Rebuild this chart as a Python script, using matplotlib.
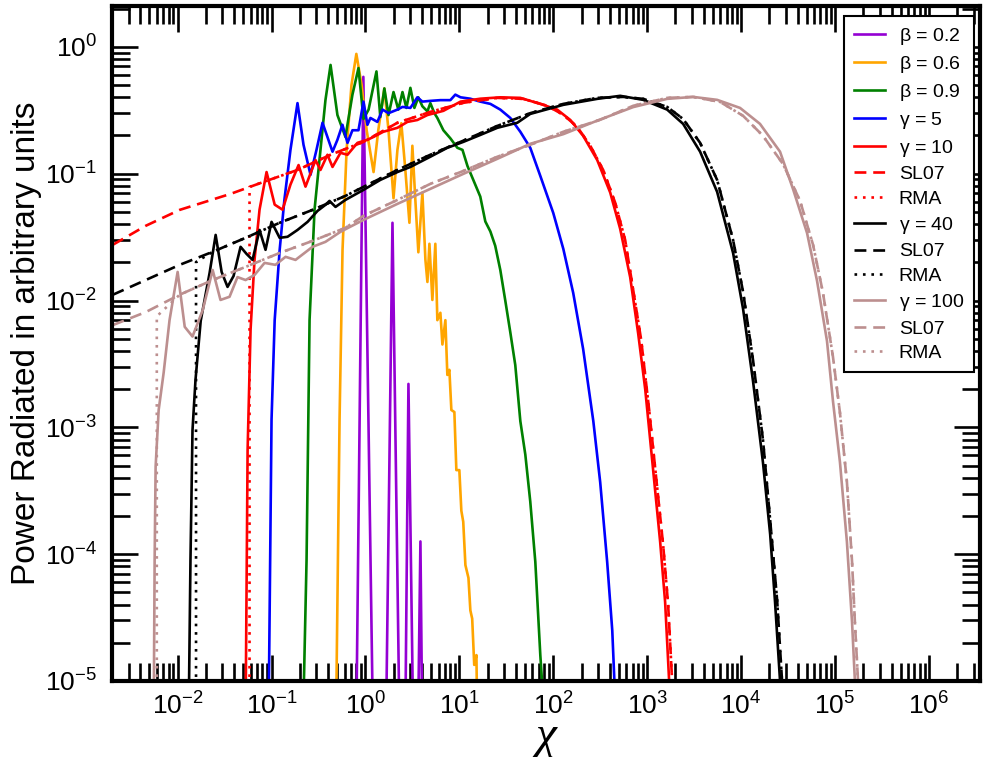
import matplotlib
matplotlib.use('Agg')
import matplotlib.pyplot as plt
import matplotlib.ticker as ticker
import numpy as np

plt.rcParams['font.family'] = ['Liberation Sans', 'DejaVu Sans']
plt.rcParams['mathtext.fontset'] = 'custom'
plt.rcParams['mathtext.rm'] = 'Liberation Sans'
plt.rcParams['mathtext.it'] = 'Liberation Sans:italic'

# beta = 0.2: isolated harmonics
b02_x = [0.80, 0.95, 1.20, 1.66, 1.94, 2.30, 2.66, 2.87, 3.22, 3.64, 3.85, 4.02]
b02_y = [5e-6, 0.58, 5e-6, 5e-6, 0.041, 5e-6, 5e-6, 2.2e-3, 5e-6, 5e-6, 1.26e-4, 5e-6]

# beta = 0.6
b06_x = [0.49, 0.53, 0.57, 0.63, 0.71, 0.80, 0.91, 1.03, 1.22, 1.37, 1.59, 1.76, 1.99, 2.19, 2.41,
         2.66, 2.94, 3.16, 3.40, 3.66, 4.04, 4.35, 4.57, 4.80, 5.16, 5.55, 5.83, 6.28, 6.60, 7.10,
         7.45, 7.83, 8.22, 8.85, 9.29, 10.0, 10.5, 11.0, 11.6, 12.5, 13.1, 13.7, 14.4, 15.2, 15.5]
b06_y = [8e-6, 1.15e-3, 0.025, 0.154, 0.50, 0.88, 0.50, 0.22, 0.103, 0.22, 0.47, 0.22, 0.064, 0.154, 0.25,
         0.107, 0.041, 0.166, 0.062, 0.024, 0.071, 0.021, 0.014, 0.028, 0.0101, 0.028, 0.0070, 0.0080, 0.0045, 0.0070,
         0.00259, 0.00284, 0.00137, 0.00132, 4.6e-4, 4.6e-4, 2.2e-4, 1.8e-4, 8.2e-5, 6.5e-5, 3.6e-5, 3.1e-5, 1.34e-5, 1.6e-5, 5e-6]

# beta = 0.9
b09_x = [0.219, 0.236, 0.254, 0.287, 0.332, 0.375, 0.425, 0.503, 0.612, 0.727, 0.843, 0.953, 1.08, 1.31, 1.44,
         1.59, 1.76, 1.99, 2.24, 2.48, 2.73, 3.01, 3.32, 3.66, 4.04, 4.57, 4.91, 5.42, 5.83, 6.76,
         8.02, 9.52, 10.8, 12.2, 14.1, 16.7, 18.9, 21.4, 24.1, 27.3, 30.9, 34.9, 39.4, 44.6, 50.4,
         56.9, 64.4, 72.8, 78.3]
b09_y = [7e-6, 9.0e-5, 7.0e-3, 0.052, 0.154, 0.38, 0.72, 0.29, 0.195, 0.42, 0.68, 0.27, 0.32, 0.64, 0.28,
         0.47, 0.29, 0.44, 0.32, 0.44, 0.33, 0.475, 0.33, 0.40, 0.34, 0.31, 0.36, 0.30, 0.275, 0.22,
         0.19, 0.16, 0.154, 0.115, 0.089, 0.066, 0.042, 0.035, 0.027, 0.0174, 0.0099, 0.0056, 0.0031, 1.12e-3, 6.1e-4,
         2.6e-4, 8.7e-5, 1.6e-5, 7e-6]

# gamma = 5
g5_x = [0.093, 0.100, 0.108, 0.122, 0.137, 0.159, 0.189, 0.219, 0.260, 0.301, 0.349, 0.446, 0.503, 0.569, 0.644,
        0.727, 0.843, 0.953, 1.05, 1.13, 1.34, 1.52, 1.76, 2.19, 2.48, 3.01, 3.57, 4.04, 4.91, 6.28,
        8.02, 9.06, 10.3, 13.1, 16.7, 21.4, 27.3, 34.9, 44.6, 56.9, 72.8, 100, 128, 163, 208,
        267, 316, 375, 425, 457]
g5_y = [5e-6, 1.15e-3, 7.0e-3, 0.025, 0.062, 0.154, 0.36, 0.169, 0.098, 0.154, 0.252, 0.149, 0.185, 0.243, 0.175,
        0.22, 0.22, 0.37, 0.243, 0.275, 0.256, 0.32, 0.30, 0.32, 0.336, 0.33, 0.40, 0.37, 0.375, 0.38,
        0.38, 0.42, 0.40, 0.39, 0.37, 0.355, 0.32, 0.275, 0.214, 0.16, 0.096, 0.049, 0.0255, 0.0115, 4.15e-3,
        1.12e-3, 3.7e-4, 8.7e-5, 2.5e-5, 7e-6]

# gamma = 10
g10_x = [0.0529, 0.0556, 0.0598, 0.0659, 0.0745, 0.0885, 0.108, 0.131, 0.159, 0.194, 0.230, 0.294, 0.332, 0.394, 0.446,
         0.542, 0.644, 0.822, 1.05, 1.22, 1.55, 2.19, 2.80, 3.57, 4.57, 6.76, 10.3, 16.7, 27.3, 44.6,
         72.8, 110, 152, 208, 294, 404, 516, 659, 802, 953, 1158, 1375, 1553, 1714, 1797]
g10_y = [5e-6, 6.6e-4, 5.9e-3, 0.021, 0.052, 0.103, 0.057, 0.052, 0.082, 0.117, 0.079, 0.128, 0.107, 0.141, 0.113,
         0.146, 0.141, 0.175, 0.185, 0.195, 0.214, 0.23, 0.256, 0.265, 0.29, 0.313, 0.37, 0.39, 0.40, 0.396,
         0.355, 0.32, 0.265, 0.199, 0.128, 0.071, 0.0367, 0.0153, 5.5e-3, 2.0e-3, 4.6e-4, 1.25e-4, 4.2e-5, 1e-5, 5e-6]
sl10_x = [0.00204, 0.00457, 0.0105, 0.0366, 0.0822, 0.189, 0.425, 0.953, 2.19, 4.91, 11.0, 25.4, 48.0, 86.3,
          128, 180, 248, 340, 457, 583, 710, 863, 1050, 1247, 1480, 1672, 1845, 1936]
sl10_y = [0.0275, 0.0388, 0.0518, 0.0693, 0.0861, 0.107, 0.141, 0.178, 0.252, 0.307, 0.362, 0.396, 0.389, 0.343,
          0.291, 0.234, 0.166, 0.107, 0.0589, 0.030, 0.0121, 4.9e-3, 1.37e-3, 4.0e-4, 1.18e-4, 4.0e-5, 1e-5, 5e-6]
rma10_cut = 0.0583
rma10_top = 0.0787

# gamma = 40
g40_x = [0.0131, 0.0137, 0.0144, 0.0155, 0.0176, 0.0219, 0.0254, 0.0294, 0.0340, 0.0394, 0.0468, 0.0542, 0.0628,
         0.0745, 0.0863, 0.100, 0.122, 0.148, 0.189, 0.242, 0.309, 0.375, 0.414, 0.48, 0.612, 0.953, 1.44, 2.19,
         3.01, 4.91, 7.45, 11.0, 16.7, 25.4, 41.4, 56.9, 128, 294, 516, 906, 1633, 2415, 3664, 5559, 8222,
         10500, 13400, 17100, 20400, 23000, 26000, 27300]
g40_y = [5e-6, 9.0e-5, 9.5e-4, 2.37e-3, 6.9e-3, 0.0165, 0.0329, 0.0168, 0.0128, 0.0156, 0.0265, 0.0233, 0.0209,
         0.036, 0.0251, 0.0417, 0.0312, 0.0318, 0.036, 0.0417, 0.0509, 0.0568, 0.061, 0.0547, 0.0621, 0.0745, 0.0893, 0.103,
         0.113, 0.136, 0.16, 0.178, 0.202, 0.23, 0.252, 0.296, 0.349, 0.389, 0.411, 0.382, 0.32, 0.247, 0.149, 0.0719, 0.0237,
         8.6e-3, 2.32e-3, 5.3e-4, 1.44e-4, 4.2e-5, 1e-5, 5e-6]
sl40_x = [0.00204, 0.00457, 0.0105, 0.0236, 0.0529, 0.122, 0.273, 0.612, 0.953, 2.19, 4.91, 11.0, 25.4, 56.9, 128,
          294, 556, 906, 1633, 2415, 3664, 5559, 8222, 10500, 13400, 17100, 20400, 24200, 27300, 28600]
sl40_y = [0.0111, 0.0145, 0.0191, 0.0242, 0.0312, 0.041, 0.0518, 0.0668, 0.0787, 0.107, 0.141, 0.182, 0.238, 0.30, 0.355,
          0.396, 0.403, 0.389, 0.336, 0.27, 0.175, 0.0893, 0.030, 0.0117, 3.4e-3, 8.0e-4, 1.86e-4, 4.35e-5, 1e-5, 5e-6]
rma40_cut = 0.0157
rma40_top = 0.0201

# gamma = 100
g100_x = [0.00556, 0.00569, 0.00583, 0.00628, 0.0071, 0.0082, 0.0100, 0.0119, 0.0144, 0.0185, 0.0236, 0.0286, 0.0357,
          0.0434, 0.0529, 0.0659, 0.0843, 0.110, 0.141, 0.180, 0.273, 0.375, 0.542, 0.953, 2.19, 4.91, 11.0, 25.4,
          56.9, 128, 294, 710, 1633, 3085, 5559, 9750, 15900, 26000, 35700, 50400, 64400, 82200, 95200, 113000,
          134000, 152000, 163000, 171000]
g100_y = [5e-6, 9e-5, 4.9e-4, 1.37e-3, 2.7e-3, 7.0e-3, 0.0168, 6.2e-3, 5.2e-3, 8.4e-3, 0.0174, 0.0101, 0.0107,
          0.0153, 0.0145, 0.0159, 0.0198, 0.0191, 0.0221, 0.0209, 0.0265, 0.029, 0.0348, 0.0432, 0.0578, 0.0759, 0.0996, 0.131,
          0.172, 0.205, 0.262, 0.335, 0.389, 0.403, 0.382, 0.33, 0.247, 0.149, 0.0759, 0.0341, 0.0143, 4.8e-3, 1.61e-3, 5.3e-4,
          1.25e-4, 2.9e-5, 1e-5, 5e-6]
sl100_x = [0.00204, 0.00457, 0.0105, 0.0236, 0.0529, 0.122, 0.273, 0.612, 0.953, 2.19, 4.91, 11.0, 25.4, 56.9, 128,
           316, 710, 1633, 3085, 5980, 10500, 17100, 28000, 42500, 58400, 74500, 95200, 113000, 134000, 152000,
           163000, 176000, 185000]
sl100_y = [6.4e-3, 8.1e-3, 0.0111, 0.0145, 0.0184, 0.0237, 0.0295, 0.0374, 0.0465, 0.0621, 0.0831, 0.105, 0.136, 0.169,
           0.214, 0.266, 0.343, 0.396, 0.403, 0.368, 0.286, 0.199, 0.119, 0.061, 0.0275, 0.0115, 3.6e-3, 1.3e-3, 3.7e-4,
           8.7e-5, 2.9e-5, 1e-5, 5e-6]
rma100_cut = 0.0060
rma100_top = 0.0075

x_decades = [-2, -1, 0, 1, 2, 3, 4, 5, 6]
y_decades = [-5, -4, -3, -2, -1, 0]

BROWN = '#bc8f8f'
LW = 1.9
DASH = (4.5, 2.6)
DOT = (1, 2.2)


def rma_curve(cut, top, sl_x, sl_y):
    # RMA: zero below the cutoff, then follows the SL07 spectrum
    xs = [cut, cut] + [x for x in sl_x if x > cut]
    ys = [5e-6, top] + [y for x, y in zip(sl_x, sl_y) if x > cut]
    return xs, ys


def minor_positions(decades, lo, hi):
    pos = []
    for d in range(min(decades) - 1, max(decades) + 1):
        for m in range(2, 10):
            v = m * 10.0 ** d
            if lo <= v <= hi:
                pos.append(v)
    return pos


fig = plt.figure(figsize=(9.85, 7.57), dpi=100)
ax = fig.add_axes([0.1137, 0.1004, 0.8812, 0.8917])

ax.plot(b02_x, b02_y, color='#9400d3', lw=LW, label=r'$\mathregular{\beta}$ = 0.2')
ax.plot(b06_x, b06_y, color='#ffa500', lw=LW, label=r'$\mathregular{\beta}$ = 0.6')
ax.plot(b09_x, b09_y, color='#008000', lw=LW, label=r'$\mathregular{\beta}$ = 0.9')
ax.plot(g5_x, g5_y, color='#0000ff', lw=LW, label=r'$\mathregular{\gamma}$ = 5')

ax.plot(g10_x, g10_y, color='#ff0000', lw=LW, label=r'$\mathregular{\gamma}$ = 10')
ax.plot(sl10_x, sl10_y, color='#ff0000', lw=LW, dashes=DASH, label='SL07')
rx, ry = rma_curve(rma10_cut, rma10_top, sl10_x, sl10_y)
ax.plot(rx, ry, color='#ff0000', lw=LW, dashes=DOT, label='RMA')

ax.plot(g40_x, g40_y, color='black', lw=LW, label=r'$\mathregular{\gamma}$ = 40')
ax.plot(sl40_x, sl40_y, color='black', lw=LW, dashes=DASH, label='SL07')
rx, ry = rma_curve(rma40_cut, rma40_top, sl40_x, sl40_y)
ax.plot(rx, ry, color='black', lw=LW, dashes=DOT, label='RMA')

ax.plot(g100_x, g100_y, color=BROWN, lw=LW, label=r'$\mathregular{\gamma}$ = 100')
ax.plot(sl100_x, sl100_y, color=BROWN, lw=LW, dashes=DASH, label='SL07')
rx, ry = rma_curve(rma100_cut, rma100_top, sl100_x, sl100_y)
ax.plot(rx, ry, color=BROWN, lw=LW, dashes=DOT, label='RMA')

ax.set_xscale('log')
ax.set_yscale('log')
xlo, xhi = 2e-3, 3.5e6
ylo, yhi = 1e-5, 2.1
ax.set_xlim(xlo, xhi)
ax.set_ylim(ylo, yhi)

ax.xaxis.set_major_locator(ticker.FixedLocator([10.0 ** d for d in x_decades]))
ax.yaxis.set_major_locator(ticker.FixedLocator([10.0 ** d for d in y_decades]))
ax.set_xticklabels([r'$\mathregular{10^{%d}}$' % d for d in x_decades])
ax.set_yticklabels([r'$\mathregular{10^{%d}}$' % d for d in y_decades])
ax.xaxis.set_minor_locator(ticker.FixedLocator(minor_positions(x_decades, xlo, xhi)))
ax.yaxis.set_minor_locator(ticker.FixedLocator(minor_positions(y_decades, ylo, yhi)))
ax.xaxis.set_minor_formatter(ticker.NullFormatter())
ax.yaxis.set_minor_formatter(ticker.NullFormatter())

ax.tick_params(which='both', direction='in', top=True, right=True, labelsize=19, width=1.9)
ax.tick_params(which='major', length=19)
ax.tick_params(which='minor', length=13)
ax.tick_params(axis='x', which='major', pad=8)
ax.tick_params(axis='y', which='major', pad=11)
for sp in ax.spines.values():
    sp.set_linewidth(3)

ax.set_ylabel('Power Radiated in arbitrary units', fontsize=24, labelpad=2)
ax.set_xlabel('χ', fontsize=34, family='Liberation Serif', style='italic', labelpad=-3)

leg = ax.legend(loc='upper right', bbox_to_anchor=(1.0, 0.994), fontsize=14,
                handlelength=1.6, handletextpad=0.72, labelspacing=0.36,
                borderpad=0.5, borderaxespad=0.3, fancybox=False, framealpha=1)
leg.get_frame().set_edgecolor('black')
leg.get_frame().set_linewidth(1.5)

fig.savefig('out.png', dpi=100)
